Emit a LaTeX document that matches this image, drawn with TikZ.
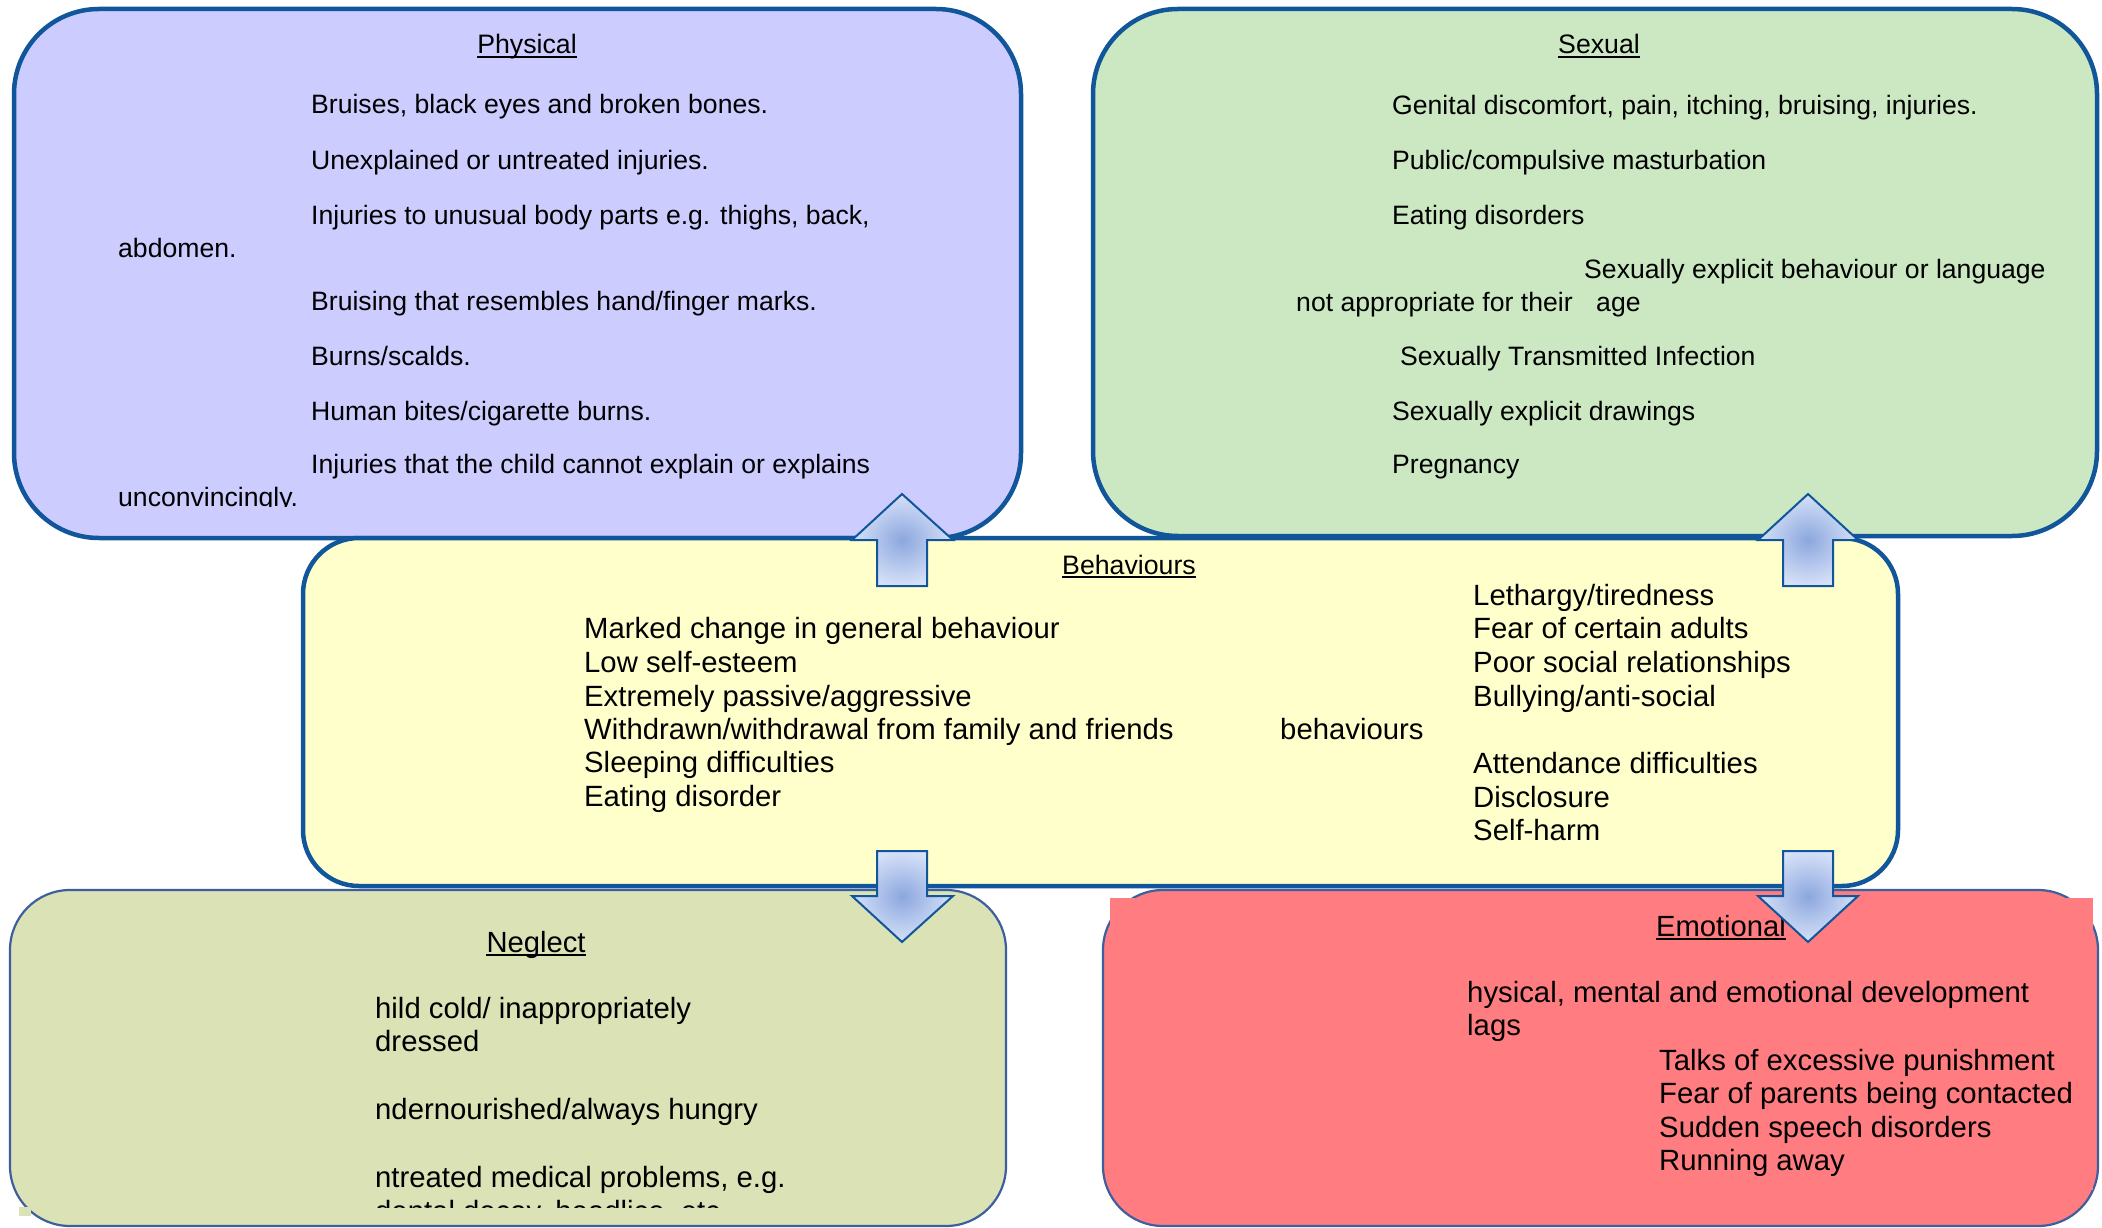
\documentclass[tikz,border=0pt]{standalone}
\usepackage{fontspec}
\setmainfont{Liberation Sans}
\definecolor{bd}{RGB}{17,85,154}
\definecolor{bdthin}{RGB}{61,95,157}
\definecolor{physfill}{RGB}{204,204,255}
\definecolor{sexfill}{RGB}{203,232,194}
\definecolor{behfill}{RGB}{255,255,204}
\definecolor{negfill}{RGB}{218,226,182}
\definecolor{emofill}{RGB}{255,124,128}
\definecolor{arrin}{RGB}{140,167,222}
\definecolor{arrout}{RGB}{214,225,248}
\begin{document}
\begin{tikzpicture}[x=1pt,y=-1pt,
  bigbox/.style={draw=bd, line width=4.5pt},
  thinbox/.style={draw=bdthin, line width=2.2pt},
  txa/.style={anchor=base west, inner sep=0pt, font=\fontsize{26.6}{30}\selectfont},
  txb/.style={anchor=base west, inner sep=0pt, font=\fontsize{29.3}{33}\selectfont},
  heada/.style={anchor=base, inner sep=0pt, font=\fontsize{26.7}{30}\selectfont},
  headb/.style={anchor=base, inner sep=0pt, font=\fontsize{29.2}{33}\selectfont},
  uline/.style={line width=2pt},
  blockarrow/.style={draw=bd, line width=2pt, inner color=arrin, outer color=arrout},
]
\useasboundingbox[fill=white] (0,0) rectangle (2102,1228);

% ---------- Physical ----------
\draw[bigbox, fill=physfill, rounded corners=85pt] (14,9) rectangle (1021,538);
\node[heada] (phh) at (527,54) {Physical};
\draw[uline] ([yshift=-3pt]phh.base west) -- ([yshift=-3pt]phh.base east);
\node[txa] (ph1) at (311,114) {Bruises, black eyes and broken bones.};
\node[txa] (ph2) at (311,169) {Unexplained or untreated injuries.};
\node[txa] (ph3) at (311,224) {Injuries to unusual body parts e.g. thighs, back,};
\node[txa] (ph3b) at (118,257) {abdomen.};
\node[txa] (ph4) at (311,310) {Bruising that resembles hand/finger marks.};
\node[txa] (ph5) at (311,365) {Burns/scalds.};
\node[txa] (ph6) at (311,420) {Human bites/cigarette burns.};
\node[txa] (ph7) at (311,473) {Injuries that the child cannot explain or explains};
\begin{scope}
  \clip (0,0) rectangle (1021,506);
  \node[txa] (ph7b) at (118,506) {unconvincingly.};
\end{scope}

% ---------- Sexual ----------
\draw[bigbox, fill=sexfill, rounded corners=85pt] (1093,9) rectangle (2097,536);
\node[heada] (sxh) at (1599,54) {Sexual};
\draw[uline] ([yshift=-3pt]sxh.base west) -- ([yshift=-3pt]sxh.base east);
\node[txa] (sx1) at (1392,115) {Genital discomfort, pain, itching, bruising, injuries.};
\node[txa] (sx2) at (1392,170) {Public/compulsive masturbation};
\node[txa] (sx3) at (1392,224) {Eating disorders};
\node[txa] (sx4) at (1584,278) {Sexually explicit behaviour or language};
\node[txa] (sx4b) at (1296,311) {not appropriate for their};
\node[txa] (sx4c) at (1596,311) {age};
\node[txa] (sx5) at (1400,365) {Sexually Transmitted Infection};
\node[txa] (sx6) at (1392,420) {Sexually explicit drawings};
\node[txa] (sx7) at (1392,473) {Pregnancy};

% ---------- Neglect ----------
\draw[thinbox, fill=negfill, rounded corners=60pt] (10,890) rectangle (1006,1226);
\fill[negfill] (19,1207) rectangle (31,1216);
\node[headb] (ngh) at (536,952) {Neglect};
\draw[uline] ([yshift=-3pt]ngh.base west) -- ([yshift=-3pt]ngh.base east);
\node[txb] (ng1) at (375,1018) {hild cold/ inappropriately};
\node[txb] (ng1b) at (375,1051) {dressed};
\node[txb] (ng2) at (375,1119) {ndernourished/always hungry};
\node[txb] (ng3) at (375,1187) {ntreated medical problems, e.g.};
\begin{scope}
  \clip (0,0) rectangle (1006,1207);
  \node[txb] (ng3b) at (375,1221) {dental decay, headlice, etc};
\end{scope}

% ---------- Emotional ----------
\draw[thinbox, fill=emofill, rounded corners=60pt] (1103,890) rectangle (2098,1226);
\fill[emofill] (1110,898) rectangle (2093,1190);
\node[headb] (emh) at (1721,936) {Emotional};
\draw[uline] ([yshift=-3pt]emh.base west) -- ([yshift=-3pt]emh.base east);
\node[txb] (em1) at (1467,1002) {hysical, mental and emotional development};
\node[txb] (em1b) at (1467,1035) {lags};
\node[txb] (em2) at (1659,1070) {Talks of excessive punishment};
\node[txb] (em3) at (1659,1103) {Fear of parents being contacted};
\node[txb] (em4) at (1659,1137) {Sudden speech disorders};
\node[txb] (em5) at (1659,1170) {Running away};

% ---------- Behaviours ----------
\draw[bigbox, fill=behfill, rounded corners=56pt] (303,538) rectangle (1898,886);
\node[heada] (bhh) at (1129,574) {Behaviours};
\draw[uline] ([yshift=-3pt]bhh.base west) -- ([yshift=-3pt]bhh.base east);
\node[txb] (bl1) at (584,638) {Marked change in general behaviour};
\node[txb] (bl2) at (584,672) {Low self-esteem};
\node[txb] (bl3) at (584,706) {Extremely passive/aggressive};
\node[txb] (bl4) at (584,739) {Withdrawn/withdrawal from family and friends};
\node[txb] (bl5) at (584,772) {Sleeping difficulties};
\node[txb] (bl6) at (584,806) {Eating disorder};
\node[txb] (bm) at (1280,739) {behaviours};
\node[txb] (br1) at (1473,605) {Lethargy/tiredness};
\node[txb] (br2) at (1473,638) {Fear of certain adults};
\node[txb] (br3) at (1473,672) {Poor social relationships};
\node[txb] (br4) at (1473,706) {Bullying/anti-social};
\node[txb] (br5) at (1473,773) {Attendance difficulties};
\node[txb] (br6) at (1473,807) {Disclosure};
\node[txb] (br7) at (1473,840) {Self-harm};

% ---------- Block arrows ----------
\path[blockarrow] (902,494) -- (953,540) -- (927,540) -- (927,586) -- (877,586) -- (877,540) -- (852,540) -- cycle;
\path[blockarrow] (1808,494) -- (1858,540) -- (1833,540) -- (1833,586) -- (1783,586) -- (1783,540) -- (1758,540) -- cycle;
\path[blockarrow] (902,942) -- (953,896) -- (927,896) -- (927,851) -- (877,851) -- (877,896) -- (852,896) -- cycle;
\path[blockarrow] (1808,942) -- (1858,896) -- (1833,896) -- (1833,851) -- (1783,851) -- (1783,896) -- (1758,896) -- cycle;
\end{tikzpicture}
\end{document}
